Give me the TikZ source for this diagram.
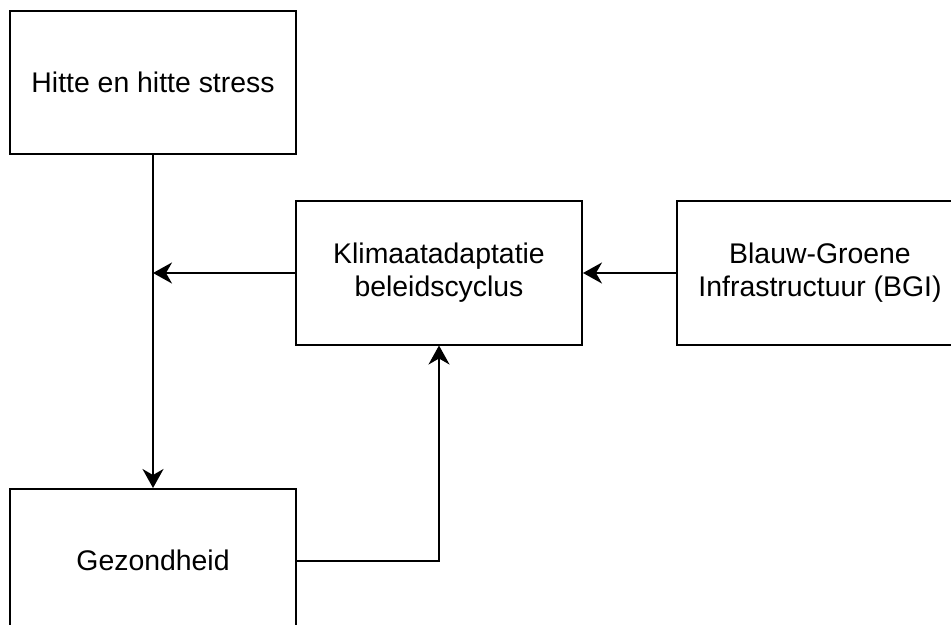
\documentclass[tikz,border=0pt]{standalone}
\usepackage{fontspec}
\setmainfont{Liberation Sans}
\usetikzlibrary{positioning,arrows.meta}

\begin{document}
\begin{tikzpicture}[x=0.5pt,y=-0.5pt,line width=1pt,
    font=\fontsize{14.2}{16.5}\selectfont,
    arr/.style={-{Stealth[length=9.5pt,width=10.5pt,inset=3pt]}}]

\useasboundingbox (0,0) rectangle (951,625);

% Hitte en hitte stress
\node[draw,
    align=center,
    minimum width=143pt,
    minimum height=71.5pt] (hitte) at (153,82.5) {Hitte en hitte stress};

% Gezondheid
\node[draw,
    below=166.5pt of hitte,
    align=center,
    minimum width=143pt,
    minimum height=71.5pt] (gez) {Gezondheid};

% Klimaatadaptatie beleidscyclus
\node[draw,
    align=center,
    minimum width=143pt,
    minimum height=71.5pt] (klim) at (439,273) {Klimaatadaptatie\\ beleidscyclus};

% Blauw-Groene Infrastructuur
\node[draw,
    right=46.5pt of klim,
    align=center,
    minimum width=143pt,
    minimum height=71.5pt] (bgi) {Blauw-Groene\\ Infrastructuur (BGI)};

\coordinate (junc) at (hitte.south|-klim.west);

% Arrows
\draw[arr] (hitte) -- (gez);
\draw[arr] (klim) -- (junc);
\draw[arr] (bgi) -- (klim);
\draw[arr] (gez) -| (klim);

\end{tikzpicture}
\end{document}
